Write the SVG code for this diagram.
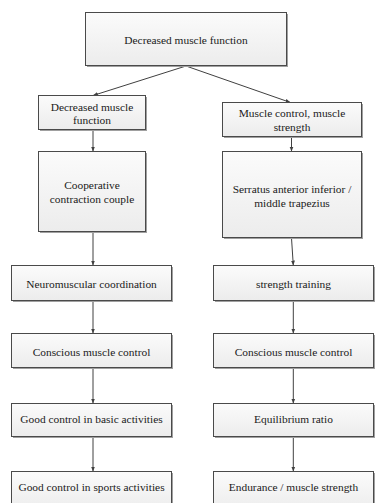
<svg xmlns="http://www.w3.org/2000/svg" width="375" height="503" viewBox="0 0 375 503">
<defs>
<linearGradient id="g" x1="0" y1="0" x2="0" y2="1">
<stop offset="0" stop-color="#fbfbfb"/>
<stop offset="1" stop-color="#ececec"/>
</linearGradient>
<marker id="a" viewBox="0 0 10 10" refX="10" refY="5" markerWidth="5" markerHeight="5" orient="auto" markerUnits="userSpaceOnUse">
<path d="M0,1 L10,5 L0,9 z" fill="#404040"/>
</marker>
</defs>
<style>
.b{fill:url(#g);stroke:#4a4a4a;stroke-width:1}
.s{fill:#a0a0a0}
.t{font-size:11.4px;fill:#1a1a1a;text-anchor:middle}
.c{stroke:#404040;stroke-width:1;fill:none;marker-end:url(#a)}
</style>
<rect width="375" height="503" fill="#ffffff"/>
<g id="connectors">
<line class="c" x1="186" y1="66" x2="93" y2="95.5"/>
<line class="c" x1="186" y1="66" x2="290.5" y2="102.5"/>
<line class="c" x1="93" y1="130" x2="93" y2="151.5"/>
<line class="c" x1="291.5" y1="137" x2="291.5" y2="151.5"/>
<line class="c" x1="93" y1="232" x2="93" y2="265.5"/>
<line class="c" x1="291.5" y1="238" x2="293.3" y2="265.5"/>
<line class="c" x1="93" y1="301" x2="93" y2="333.5"/>
<line class="c" x1="293.3" y1="301" x2="293.3" y2="333.5"/>
<line class="c" x1="93" y1="368" x2="93" y2="403.5"/>
<line class="c" x1="293.3" y1="368" x2="293.3" y2="403.5"/>
<line class="c" x1="93" y1="437" x2="93" y2="471.5"/>
<line class="c" x1="293.3" y1="437" x2="293.3" y2="471.5"/>
</g>
<g class="t" font-family="'Liberation Serif', 'DejaVu Serif', serif">
<g id="n0"><rect class="s" x="87" y="14" width="201" height="53"/><rect class="b" x="85.5" y="12.5" width="201" height="53"/><text x="186" y="44">Decreased muscle function</text></g>
<g id="n1"><rect class="s" x="40" y="97" width="107" height="34"/><rect class="b" x="38.5" y="95.5" width="107" height="34"/><text x="92" y="110.5">Decreased muscle</text><text x="92" y="124">function</text></g>
<g id="n2"><rect class="s" x="224" y="104" width="139" height="34"/><rect class="b" x="222.5" y="102.5" width="139" height="34"/><text x="292" y="117">Muscle control, muscle</text><text x="292" y="130.5">strength</text></g>
<g id="n3"><rect class="s" x="40" y="153" width="107" height="80"/><rect class="b" x="38.5" y="151.5" width="107" height="80"/><text x="92" y="189">Cooperative</text><text x="92" y="203">contraction couple</text></g>
<g id="n4"><rect class="s" x="224" y="153" width="139" height="86"/><rect class="b" x="222.5" y="151.5" width="139" height="86"/><text x="292" y="193">Serratus anterior inferior /</text><text x="292" y="206.5">middle trapezius</text></g>
<g id="n5"><rect class="s" x="13" y="267" width="160" height="35"/><rect class="b" x="11.5" y="265.5" width="160" height="35"/><text x="91.5" y="288">Neuromuscular coordination</text></g>
<g id="n6"><rect class="s" x="215" y="267" width="160" height="35"/><rect class="b" x="213.5" y="265.5" width="160" height="35"/><text x="293.5" y="288">strength training</text></g>
<g id="n7"><rect class="s" x="13" y="335" width="160" height="34"/><rect class="b" x="11.5" y="333.5" width="160" height="34"/><text x="91.5" y="355.5">Conscious muscle control</text></g>
<g id="n8"><rect class="s" x="215" y="335" width="160" height="34"/><rect class="b" x="213.5" y="333.5" width="160" height="34"/><text x="293.5" y="355.5">Conscious muscle control</text></g>
<g id="n9"><rect class="s" x="13" y="405" width="160" height="33"/><rect class="b" x="11.5" y="403.5" width="160" height="33"/><text x="91.5" y="423">Good control in basic activities</text></g>
<g id="n10"><rect class="s" x="215" y="405" width="160" height="33"/><rect class="b" x="213.5" y="403.5" width="160" height="33"/><text x="293.5" y="423">Equilibrium ratio</text></g>
<g id="n11"><rect class="s" x="13" y="473" width="160" height="40"/><rect class="b" x="11.5" y="471.5" width="160" height="40"/><text x="91.5" y="491">Good control in sports activities</text></g>
<g id="n12"><rect class="s" x="215" y="473" width="160" height="40"/><rect class="b" x="213.5" y="471.5" width="160" height="40"/><text x="293.5" y="491">Endurance / muscle strength</text></g>
</g>
</svg>
